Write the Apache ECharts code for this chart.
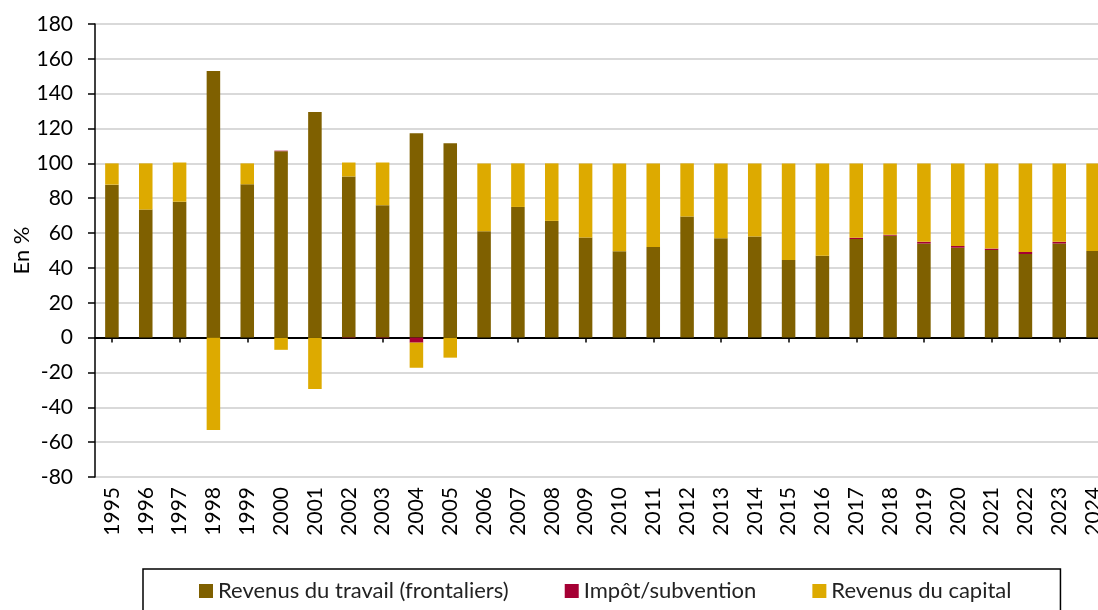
<!DOCTYPE html>
<html>
<head>
<meta charset="utf-8">
<script src="https://cdn.jsdelivr.net/npm/echarts@6/dist/echarts.min.js"></script>
<style>
html,body{margin:0;padding:0;background:#fff;}
#chart{width:1098px;height:610px;}
</style>
</head>
<body>
<div id="chart"></div>
<script>
const years = ['1995','1996','1997','1998','1999','2000','2001','2002','2003','2004','2005','2006','2007','2008','2009','2010','2011','2012','2013','2014','2015','2016','2017','2018','2019','2020','2021','2022','2023','2024'];
const travail = [87.8,73.5,78,153,88,107,129.5,92.5,76,117.3,111.5,61,75,67,57.5,49.5,52,69.5,57,58,44.5,47,56.6,58.5,54,51.6,50.3,48,54,49.7];
const impot   = [0,0,0,0,0,0.3,0,-0.3,-0.3,-2.9,0,0,0,0,0,0,0,0,0,0,0,0,0.7,0.5,1,1,0.8,1.2,1,0];
const capital = [12.2,26.5,22.5,-53,12,-7,-29.5,8,24.5,-14.4,-11.5,39,25,33,42.5,50.5,48,30.5,43,42,55.5,53,42.7,41,45,47.4,48.9,50.8,45,50.3];
const yTicks = {min:-80, max:180, interval:20};

const FONT = 'Lato, "Open Sans", sans-serif';
const chart = echarts.init(document.getElementById('chart'), null, {renderer:'canvas'});
chart.setOption({
  animation:false,
  backgroundColor:'#fff',
  textStyle:{fontFamily:FONT},
  grid:{left:95, width:1015, top:24, height:453, containLabel:false, outerBoundsMode:'none'},
  legend:{
    data:['Revenus du travail (frontaliers)','Impôt/subvention','Revenus du capital'],
    left:143, top:569,
    icon:'rect', itemWidth:14, itemHeight:14, itemGap:56,
    padding:[11,49,30,56],
    borderColor:'#000', borderWidth:1.5,
    textStyle:{fontFamily:FONT, fontSize:22, color:'#222'}
  },
  xAxis:[{
    type:'category', data:years,
    axisLine:{onZero:true, lineStyle:{color:'#000', width:2}},
    axisTick:{show:true, alignWithLabel:true, length:5, inside:false, lineStyle:{color:'#000', width:1.5}},
    axisLabel:{show:false},
    splitLine:{show:false}
  },{
    type:'category', data:years, position:'bottom',
    axisLine:{show:false}, axisTick:{show:false},
    axisLabel:{rotate:90, margin:10, fontSize:21, color:'#000', fontFamily:FONT, interval:0}
  }],
  yAxis:{
    type:'value', min:yTicks.min, max:yTicks.max, interval:yTicks.interval,
    name:'En %', nameLocation:'middle', nameGap:62, nameMoveOverlap:false,
    nameTextStyle:{fontSize:22, color:'#000', fontFamily:FONT},
    axisLine:{show:true, lineStyle:{color:'#000', width:1.5}},
    axisTick:{show:true, length:7, lineStyle:{color:'#000', width:1.5}},
    axisLabel:{fontSize:21, color:'#000', margin:22, fontFamily:FONT},
    splitLine:{lineStyle:{color:'#d9d9d9', width:2}}
  },
  series:[
    {name:'Revenus du travail (frontaliers)', type:'bar', stack:'tot', data:travail, barWidth:'40%', itemStyle:{color:'#7F6000'}},
    {name:'Impôt/subvention', type:'bar', stack:'tot', data:impot, barWidth:'40%', itemStyle:{color:'#A50034'}},
    {name:'Revenus du capital', type:'bar', stack:'tot', data:capital, barWidth:'40%', itemStyle:{color:'#DDAA00'}}
  ]
});
</script>
</body>
</html>
